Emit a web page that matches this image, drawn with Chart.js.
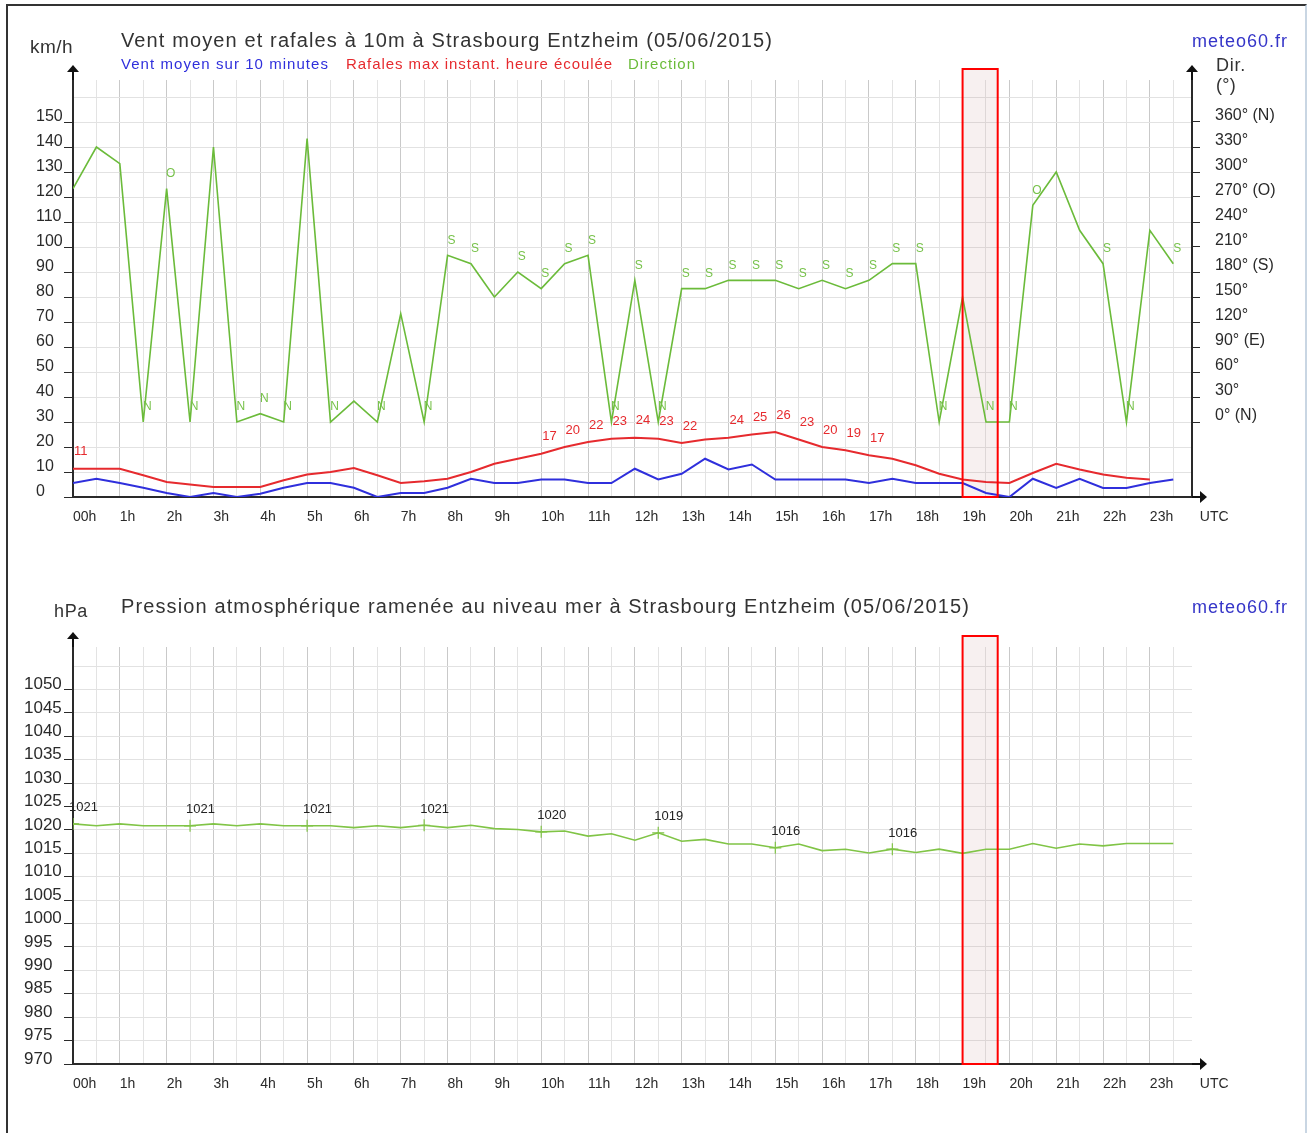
<!DOCTYPE html>
<html lang="fr">
<head>
<meta charset="utf-8">
<title>Vent et pression - Strasbourg Entzheim (05/06/2015)</title>
<script src="https://cdn.jsdelivr.net/npm/chart.js@4.4.0/dist/chart.umd.min.js"></script>
<style>
  body { margin: 0; background: #fff; font-family: "Liberation Sans", Arial, sans-serif; }
  #page { position: relative; width: 1313px; height: 1133px; overflow: hidden; background: #fff; }
  #frame { position: absolute; left: 6px; top: 4px; width: 1297px; height: 1140px;
           border-left: 2px solid #333; border-top: 2px solid #333; border-right: 2px solid #c9d6e3; }
  canvas { position: absolute; left: 0; }
  .t { position: absolute; white-space: nowrap; line-height: 1; }
</style>
</head>
<body>
<div id="page">
  <div id="frame"></div>
  <canvas id="wind" width="1313" height="560" style="top:0"></canvas>
  <canvas id="pres" width="1313" height="573" style="top:560px"></canvas>
</div>
<script>
// half-hour steps of the day (UTC)
const times = [0, 0.5, 1, 1.5, 2, 2.5, 3, 3.5, 4, 4.5, 5, 5.5, 6, 6.5, 7, 7.5,
  8, 8.5, 9, 9.5, 10, 10.5, 11, 11.5, 12, 12.5, 13, 13.5, 14, 14.5, 15, 15.5,
  16, 16.5, 17, 17.5, 18, 18.5, 19, 19.5, 20, 20.5, 21, 21.5, 22, 22.5, 23, 23.5];
const hourLabels = ['00h', '1h', '2h', '3h', '4h', '5h', '6h', '7h', '8h', '9h', '10h', '11h',
  '12h', '13h', '14h', '15h', '16h', '17h', '18h', '19h', '20h', '21h', '22h', '23h'];

// km/h
const ventMoyen = [5.6, 7.3, 5.6, 3.7, 1.6, 0, 1.6, 0, 1.3, 3.7, 5.6, 5.6, 3.7, 0, 1.6, 1.6,
  3.7, 7.3, 5.6, 5.6, 7, 7, 5.6, 5.6, 11.3, 7, 9.3, 15.3, 11, 13, 7, 7,
  7, 7, 5.6, 7.3, 5.6, 5.6, 5.6, 1.6, 0, 7.3, 3.6, 7.3, 3.6, 3.6, 5.6, 7];
const rafales = [11.3, 11.3, 11.3, 8.7, 6, 5, 4, 4, 4, 6.7, 9, 10, 11.6, 8.7, 5.6, 6.3,
  7.3, 10, 13.3, 15.3, 17.3, 20, 22, 23.3, 23.7, 23.3, 21.6, 23, 23.7, 25, 26, 23,
  20, 18.7, 16.7, 15.3, 12.7, 9.3, 7, 6, 5.6, 9.6, 13.3, 11, 9, 7.7, 7, null];
const rafalesLabels = ['11', null, null, null, null, null, null, null, null, null, null, null, null, null, null, null,
  null, null, null, null, '17', '20', '22', '23', '24', '23', '22', null, '24', '25', '26', '23',
  '20', '19', '17', null, null, null, null, null, null, null, null, null, null, null, null, null];

// degrees
const direction = [280, 330, 310, 0, 280, 0, 330, 0, 10, 0, 340, 0, 25, 0, 130, 0,
  200, 190, 150, 180, 160, 190, 200, 0, 170, 0, 160, 160, 170, 170, 170, 160,
  170, 160, 170, 190, 190, 0, 150, 0, 0, 260, 300, 230, 190, 0, 230, 190];
const directionLabels = [null, null, null, 'N', 'O', 'N', null, 'N', 'N', 'N', null, 'N', null, 'N', null, 'N',
  'S', 'S', null, 'S', 'S', 'S', 'S', 'N', 'S', 'N', 'S', 'S', 'S', 'S', 'S', 'S',
  'S', 'S', 'S', 'S', 'S', 'N', null, 'N', 'N', 'O', null, null, 'S', 'N', null, 'S'];
const dirTicks = [0, 30, 60, 90, 120, 150, 180, 210, 240, 270, 300, 330, 360];
const dirTickLabels = ['0° (N)', '30°', '60°', '90° (E)', '120°', '150°', '180° (S)',
  '210°', '240°', '270° (O)', '300°', '330°', '360° (N)'];

// hPa
const pression = [1021.3, 1020.9, 1021.3, 1020.9, 1020.9, 1020.9, 1021.3, 1020.9, 1021.3, 1020.9, 1020.9, 1020.9, 1020.5, 1020.9, 1020.5, 1021.0,
  1020.5, 1021.0, 1020.3, 1020.1, 1019.6, 1019.8, 1018.7, 1019.2, 1017.8, 1019.4, 1017.6, 1018.0, 1017.0, 1017.0, 1016.2, 1017.0,
  1015.6, 1015.9, 1015.1, 1015.9, 1015.2, 1015.9, 1015.0, 1015.9, 1015.9, 1017.1, 1016.1, 1017.0, 1016.6, 1017.1, 1017.1, 1017.1];
const pressionLabels = ['1021', null, null, null, null, '1021', null, null, null, null, '1021', null, null, null, null, '1021',
  null, null, null, null, '1020', null, null, null, null, '1019', null, null, null, null, '1016', null,
  null, null, null, '1016', null, null, null, null, null, null, null, null, null, null, null, null];

// current hour window
const highlight = [19, 19.75];

const BLUE = '#2f2fdc', RED = '#e62a2e', GREEN = '#6bbb3a', PGREEN = '#80c446';
const X_MAX = 23.9;
const NONE = 'rgba(0,0,0,0)';

Chart.defaults.font.family = '"Liberation Sans", Arial, sans-serif';
Chart.defaults.color = '#222';

// ---- text outside the plot (titles, units, legend) ----
const texts = [
  ['km/h', 30, 52, 19, '#333', 43],
  ['Vent moyen et rafales à 10m à Strasbourg Entzheim (05/06/2015)', 121, 46, 20, '#333', 652],
  ['Vent moyen sur 10 minutes', 121, 68, 15, BLUE, 208],
  ['Rafales max instant. heure écoulée', 346, 68, 15, RED, 267],
  ['Direction', 628, 68, 15, GREEN, 68],
  ['meteo60.fr', 1192, 46, 18, '#3535c8', 96],
  ['Dir.', 1216, 70, 18, '#333', 30],
  ['(°)', 1216, 90, 18, '#333', 20],
  ['hPa', 54, 616, 18, '#333', 34],
  ['Pression atmosphérique ramenée au niveau mer à Strasbourg Entzheim (05/06/2015)', 121, 612, 20, '#333', 849],
  ['meteo60.fr', 1192, 612, 18, '#3535c8', 96]
];
const mctx = document.createElement('canvas').getContext('2d');
texts.forEach(([txt, x, base, size, color, w]) => {
  const el = document.createElement('div');
  el.className = 't';
  el.textContent = txt;
  const font = size + 'px "Liberation Sans", Arial, sans-serif';
  mctx.font = font;
  const natural = mctx.measureText(txt).width;
  el.style.cssText = 'left:' + x + 'px;top:' + (base - 0.85 * size) + 'px;font:' + font +
    ';color:' + color + ';letter-spacing:' + ((w - natural) / txt.length).toFixed(2) + 'px';
  document.getElementById('page').appendChild(el);
});

// ---- plugins ----
const boxPlugin = {
  id: 'hourBox',
  beforeDatasetsDraw(chart) {
    const {ctx, chartArea: a, scales: {x}} = chart;
    const x0 = x.getPixelForValue(highlight[0]), x1 = x.getPixelForValue(highlight[1]);
    ctx.save();
    ctx.fillStyle = 'rgba(190,140,140,0.13)';
    ctx.fillRect(x0, a.top - 11, x1 - x0, a.bottom - a.top + 11);
    ctx.restore();
  },
  afterDatasetsDraw(chart) {
    const {ctx, chartArea: a, scales: {x}} = chart;
    const x0 = x.getPixelForValue(highlight[0]), x1 = x.getPixelForValue(highlight[1]);
    ctx.save();
    ctx.strokeStyle = '#ff0000';
    ctx.lineWidth = 2;
    ctx.strokeRect(x0, a.top - 11, x1 - x0, a.bottom - a.top + 11);
    ctx.restore();
  }
};

const arrowPlugin = {
  id: 'arrows',
  afterDraw(chart, args, opts) {
    const {ctx, chartArea: a} = chart;
    ctx.save();
    ctx.strokeStyle = '#111';
    ctx.fillStyle = '#111';
    ctx.lineWidth = 2;
    const up = (x) => {
      ctx.beginPath(); ctx.moveTo(x, a.top); ctx.lineTo(x, a.top - 9); ctx.stroke();
      ctx.beginPath(); ctx.moveTo(x - 6, a.top - 8); ctx.lineTo(x + 6, a.top - 8); ctx.lineTo(x, a.top - 15); ctx.closePath(); ctx.fill();
    };
    up(a.left);
    if (opts.right) up(a.right);
    ctx.beginPath(); ctx.moveTo(a.right, a.bottom); ctx.lineTo(a.right + 9, a.bottom); ctx.stroke();
    ctx.beginPath(); ctx.moveTo(a.right + 8, a.bottom - 6); ctx.lineTo(a.right + 8, a.bottom + 6); ctx.lineTo(a.right + 15, a.bottom); ctx.closePath(); ctx.fill();
    ctx.restore();
  }
};

// values written next to the points
const labelPlugin = {
  id: 'pointText',
  afterDatasetsDraw(chart) {
    const ctx = chart.ctx;
    chart.data.datasets.forEach((ds, i) => {
      if (!ds.pointText) return;
      const meta = chart.getDatasetMeta(i);
      ctx.save();
      ctx.font = ds.textFont;
      ctx.fillStyle = ds.textColor;
      ctx.textAlign = ds.textAlign;
      ctx.textBaseline = 'middle';
      ds.pointText.forEach((txt, j) => {
        if (!txt) return;
        const p = meta.data[j];
        ctx.fillText(txt, p.x + ds.textDx, p.y + ds.textDy);
      });
      ctx.restore();
    });
  }
};

function xAxis(labelPad, height) {
  return {
    type: 'linear', min: 0, max: X_MAX,
    afterBuildTicks: s => { s.ticks = times.map(v => ({value: v})).concat([{value: X_MAX}]); },
    afterFit: s => { s.height = height; },
    ticks: {
      autoSkip: false, maxRotation: 0, align: 'start', padding: labelPad,
      color: '#2a2a2a', font: {size: 14},
      callback: v => v > 23.6 ? '  UTC' : (Number.isInteger(v) ? hourLabels[v] : '')
    },
    grid: {
      drawTicks: false,
      color: c => {
        const v = c.tick.value;
        if (v === 0 || v > 23.6) return NONE;
        return Number.isInteger(v) ? '#c9c9c9' : '#e3e3e3';
      }
    },
    border: {color: '#2a2a2a', width: 2}
  };
}

const points = (vals) => times.map((t, i) => ({x: t, y: vals[i]}));

// ---- wind chart ----
new Chart(document.getElementById('wind'), {
  type: 'line',
  data: {
    datasets: [
      {
        label: 'Direction', data: points(direction), yAxisID: 'yDir',
        borderColor: GREEN, borderWidth: 1.6, pointRadius: 0, tension: 0,
        pointText: directionLabels, textFont: '12px "Liberation Sans", Arial', textColor: '#77c24a',
        textAlign: 'center', textDx: 4, textDy: -15
      },
      {
        label: 'Rafales max instant. heure écoulée', data: points(rafales), yAxisID: 'y',
        borderColor: RED, borderWidth: 2, pointRadius: 0, tension: 0,
        pointText: rafalesLabels, textFont: '13px "Liberation Sans", Arial', textColor: RED,
        textAlign: 'left', textDx: 1, textDy: -17
      },
      {
        label: 'Vent moyen sur 10 minutes', data: points(ventMoyen), yAxisID: 'y',
        borderColor: BLUE, borderWidth: 2, pointRadius: 0, tension: 0
      }
    ]
  },
  options: {
    responsive: false, animation: false, events: [],
    layout: {padding: {left: 36, top: 80, right: 0, bottom: 0}},
    plugins: {legend: {display: false}, tooltip: {enabled: false}, arrows: {right: true}},
    scales: {
      x: xAxis(12, 63),
      y: {
        position: 'left', min: 0, max: 166.8,
        afterFit: s => { s.width = 37; },
        ticks: {
          stepSize: 10, maxTicksLimit: 100, includeBounds: false, crossAlign: 'far',
          labelOffset: -5, color: '#2a2a2a', font: {size: 16},
          callback: v => v <= 150 ? String(v) : ''
        },
        grid: {
          tickLength: 9,
          color: c => c.tick.value === 0 ? NONE : '#e2e2e2',
          tickColor: c => c.tick.value <= 150 ? '#2a2a2a' : NONE
        },
        border: {color: '#2a2a2a', width: 2}
      },
      yDir: {
        position: 'right', min: -90, max: 410.4,
        afterFit: s => { s.width = 121; },
        ticks: {
          stepSize: 30, maxTicksLimit: 100, includeBounds: false, padding: 15,
          labelOffset: -6, color: '#2a2a2a', font: {size: 16},
          callback: v => { const k = dirTicks.indexOf(v); return k < 0 ? '' : dirTickLabels[k]; }
        },
        grid: {
          drawOnChartArea: false, tickLength: 8,
          tickColor: c => dirTicks.includes(c.tick.value) ? '#2a2a2a' : NONE
        },
        border: {color: '#2a2a2a', width: 2}
      }
    }
  },
  plugins: [boxPlugin, labelPlugin, arrowPlugin]
});

// ---- pressure chart ----
new Chart(document.getElementById('pres'), {
  type: 'line',
  data: {
    datasets: [{
      label: 'Pression', data: points(pression),
      borderColor: PGREEN, borderWidth: 1.6, tension: 0,
      pointStyle: 'cross', pointBorderColor: PGREEN, pointBorderWidth: 1.2,
      pointRadius: c => pressionLabels[c.dataIndex] ? 6 : 0,
      pointText: pressionLabels, textFont: '13px "Liberation Sans", Arial', textColor: '#222',
      textAlign: 'left', textDx: -4, textDy: -16
    }]
  },
  options: {
    responsive: false, animation: false, events: [],
    layout: {padding: {left: 24, top: 87, right: 121, bottom: 0}},
    plugins: {legend: {display: false}, tooltip: {enabled: false}, arrows: {right: false}},
    scales: {
      x: xAxis(12, 69),
      y: {
        position: 'left', min: 970, max: 1059.1,
        afterFit: s => { s.width = 49; },
        ticks: {
          stepSize: 5, maxTicksLimit: 100, includeBounds: false, crossAlign: 'far',
          labelOffset: -5, color: '#2a2a2a', font: {size: 17},
          callback: v => v <= 1050 ? String(v) : ''
        },
        grid: {
          tickLength: 9,
          color: c => c.tick.value === 970 ? NONE : '#e2e2e2',
          tickColor: c => c.tick.value <= 1050 ? '#2a2a2a' : NONE
        },
        border: {color: '#2a2a2a', width: 2}
      }
    }
  },
  plugins: [boxPlugin, labelPlugin, arrowPlugin]
});
</script>
</body>
</html>
